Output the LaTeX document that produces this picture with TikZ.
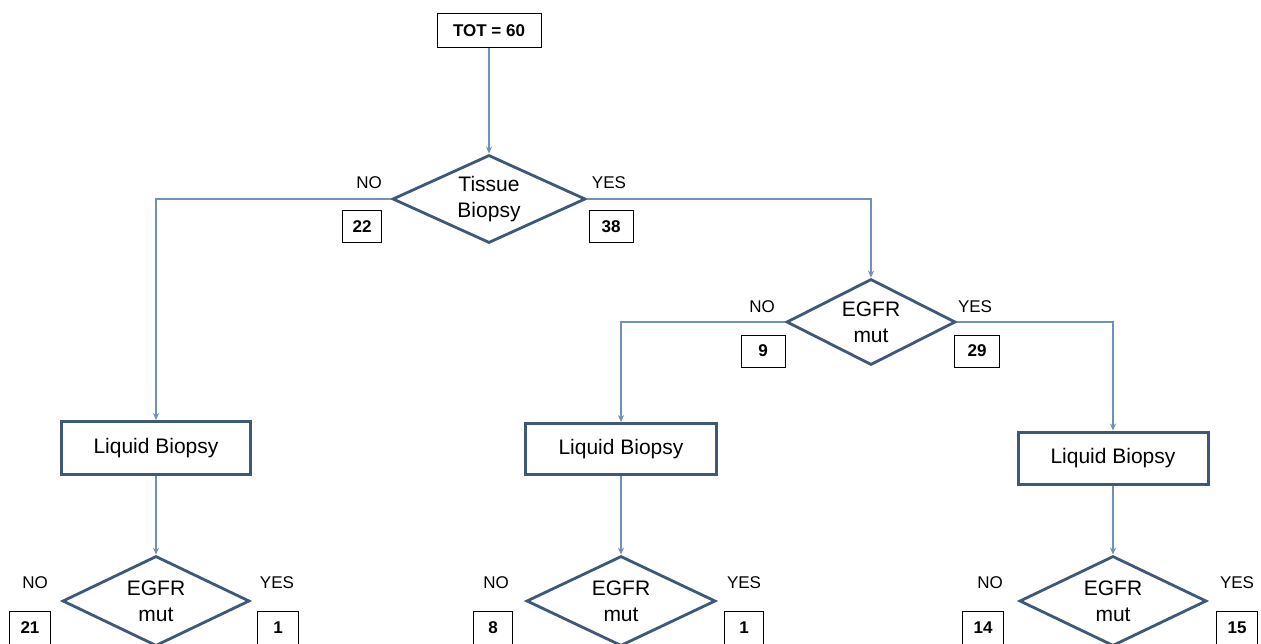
\documentclass[tikz,border=0pt]{standalone}
\usepackage{fontspec}
\setmainfont{Liberation Sans}
\usetikzlibrary{shapes.geometric,arrows.meta}
\definecolor{frameblue}{HTML}{3D5878}
\definecolor{linkblue}{HTML}{6F90BA}
\tikzset{
  decision/.style={diamond, aspect=2.2, draw=frameblue, line width=2.8pt, fill=white, inner sep=0pt,
    minimum width=193pt, minimum height=88pt, align=center, font=\fontsize{21}{26}\selectfont},
  procbox/.style={rectangle, draw=frameblue, line width=2.8pt, fill=white,
    minimum width=189pt, minimum height=53pt, font=\fontsize{21}{24}\selectfont},
  countbox/.style={rectangle, draw=black, line width=1pt, fill=white, minimum width=41pt,
    minimum height=32pt, inner sep=0pt, font=\bfseries\fontsize{17}{20}\selectfont},
  answer/.style={font=\fontsize{17}{20}\selectfont, inner sep=0pt},
  link/.style={draw=linkblue, line width=1.1pt, -{Stealth[length=7pt,width=6pt]}}
}
\begin{document}
\begin{tikzpicture}[x=1pt,y=-1pt]
\useasboundingbox (0,0) rectangle (1261,644);
\clip (0,0) rectangle (1261,644);
\fill[white] (0,0) rectangle (1261,644);

\node[countbox, minimum width=104pt, minimum height=34pt] (tot) at (489,31) {TOT = 60};
\node[decision] (tb) at (489,199) {Tissue\\Biopsy};
\node[decision, minimum width=169pt, minimum height=86pt] (em) at (871,322) {EGFR\\mut};

\node[procbox] (lb1) at (156,448) {Liquid Biopsy};
\node[procbox, minimum width=191pt, minimum height=51pt] (lb2) at (621,449) {Liquid Biopsy};
\node[procbox, minimum width=190pt, minimum height=52pt, line width=3pt] (lb3) at (1113,458) {Liquid Biopsy};

\node[decision, minimum width=187pt, minimum height=90pt] (d1) at (156,601) {EGFR\\mut};
\node[decision, minimum width=189pt, minimum height=90pt] (d2) at (621,601) {EGFR\\mut};
\node[decision, minimum width=187pt, minimum height=90pt] (d3) at (1113,601) {EGFR\\mut};

\node[answer] (tbno) at (369,183) {NO};
\node[answer] (tbyes) at (609,183) {YES};
\node[countbox, minimum width=39pt] (n22) at (362,227) {22};
\node[countbox, minimum width=44pt] (n38) at (611,227) {38};

\node[answer] (emno) at (762,307) {NO};
\node[answer] (emyes) at (975,307) {YES};
\node[countbox, minimum width=44pt] (n9) at (763,351) {9};
\node[countbox, minimum width=45pt] (n29) at (977,351) {29};

\node[answer] (d1no) at (35,583) {NO};
\node[answer] (d1yes) at (277,583) {YES};
\node[countbox, minimum height=34pt] (n21) at (30,628) {21};
\node[countbox, minimum height=34pt] (n1a) at (278,628) {1};

\node[answer] (d2no) at (496,583) {NO};
\node[answer] (d2yes) at (744,583) {YES};
\node[countbox, minimum width=39pt, minimum height=34pt] (n8) at (493,628) {8};
\node[countbox, minimum width=39pt, minimum height=34pt] (n1b) at (744,628) {1};

\node[answer] (d3no) at (990,583) {NO};
\node[answer] (d3yes) at (1237,583) {YES};
\node[countbox, minimum height=34pt] (n14) at (983,628) {14};
\node[countbox, minimum height=34pt] (n15) at (1237,628) {15};

\draw[link] (tot.south) -- (tb.north);
\draw[link] (tb.west) -| (lb1.north);
\draw[link] (tb.east) -| (em.north);
\draw[link] (em.west) -| (lb2.north);
\draw[link] (em.east) -| (lb3.north);
\draw[link] (lb1.south) -- (d1.north);
\draw[link] (lb2.south) -- (d2.north);
\draw[link] (lb3.south) -- (d3.north);
\end{tikzpicture}
\end{document}
